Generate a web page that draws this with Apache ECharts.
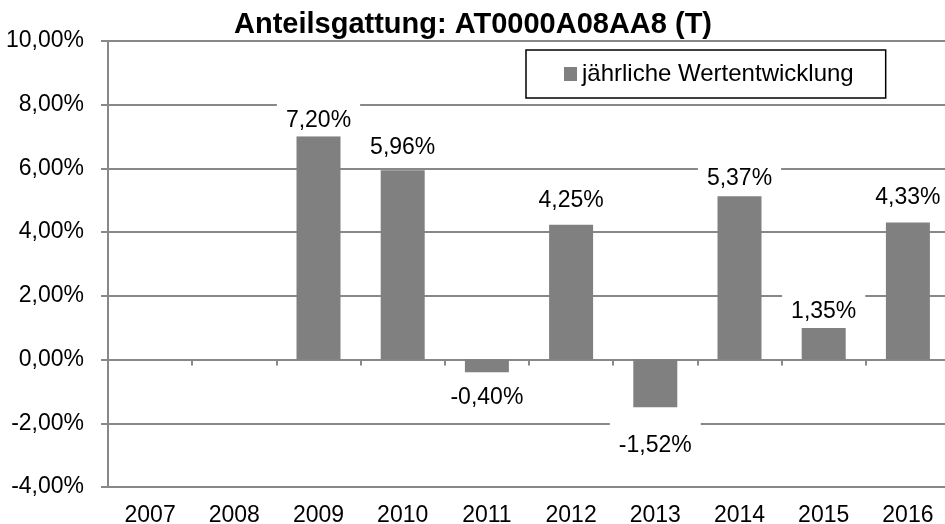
<!DOCTYPE html>
<html>
<head>
<meta charset="utf-8">
<script src="https://cdn.jsdelivr.net/npm/echarts@6/dist/echarts.min.js"></script>
<style>html,body{margin:0;padding:0;background:#fff;}#c{width:945px;height:524px;}</style>
</head>
<body>
<div id="c"></div>
<script>
// ---- data ----
const years = ['2007','2008','2009','2010','2011','2012','2013','2014','2015','2016'];
const barValues = [null, null, 7.01, 5.94, -0.40, 4.23, -1.50, 5.13, 0.99, 4.30];
const labelValues = [null, null, 7.20, 5.96, -0.40, 4.25, -1.52, 5.37, 1.35, 4.33];
const yTicks = [-4, -2, 0, 2, 4, 6, 8, 10];
const seriesName = 'jährliche Wertentwicklung';
const chartTitle = 'Anteilsgattung: AT0000A08AA8 (T)';

// ---- layout / style ----
const labelDistance = [0, 0, 0, 7, 1, 8, 14, 1, 0, 9];
const FONT = 'Liberation Sans, Arial, sans-serif';
const GRAY = '#888888';
const fmt = v => v.toFixed(2).replace('.', ',') + '%';

const seriesData = barValues.map((v, i) => {
  if (v === null) return { value: null, label: { show: false } };
  return {
    value: v,
    label: {
      show: true,
      position: v < 0 ? 'bottom' : 'top',
      distance: labelDistance[i],
      formatter: () => fmt(labelValues[i])
    }
  };
});

const chart = echarts.init(document.getElementById('c'), null, { renderer: 'canvas' });
chart.setOption({
  animation: false,
  backgroundColor: '#fff',
  textStyle: { fontFamily: FONT },
  title: {
    text: chartTitle,
    left: 468, top: 5, textAlign: 'center',
    textStyle: { fontFamily: FONT, fontWeight: 'bold', fontSize: 29, color: '#000' }
  },
  legend: {
    data: [seriesName],
    left: 526, top: 50,
    padding: [12, 32, 12, 38],
    borderColor: '#000', borderWidth: 1.5,
    backgroundColor: '#fff',
    itemWidth: 13, itemHeight: 14,
    icon: 'rect',
    textStyle: { fontFamily: FONT, fontSize: 24, color: '#000' }
  },
  grid: { left: 108, top: 41, width: 842, height: 446, containLabel: false, outerBoundsMode: 'none' },
  xAxis: [
    {
      type: 'category', data: years, position: 'bottom',
      axisLine: { show: true, onZero: true, lineStyle: { color: GRAY, width: 2 } },
      axisTick: { show: true, length: 6, lineStyle: { color: GRAY, width: 2 } },
      axisLabel: { show: false },
      splitLine: { show: false }
    },
    {
      type: 'category', data: years, position: 'bottom',
      axisLine: { show: false, onZero: false },
      axisTick: { show: false },
      axisLabel: { show: true, margin: 17, fontFamily: FONT, fontSize: 23, color: '#000' },
      splitLine: { show: false }
    }
  ],
  yAxis: {
    type: 'value', min: yTicks[0], max: yTicks[yTicks.length - 1], interval: 2,
    axisLine: { show: true, lineStyle: { color: GRAY, width: 2 } },
    axisTick: { show: true, length: 7, lineStyle: { color: GRAY, width: 2 } },
    axisLabel: { margin: 24, fontFamily: FONT, fontSize: 23, color: '#000', formatter: v => fmt(v) },
    splitLine: { show: true, lineStyle: { color: GRAY, width: 2 } }
  },
  series: [{
    name: seriesName,
    type: 'bar',
    xAxisIndex: 0,
    data: seriesData,
    barWidth: 44,
    itemStyle: { color: '#808080' },
    label: {
      show: true,
      fontFamily: FONT, fontSize: 23, color: '#000',
      lineHeight: 24,
      backgroundColor: '#fff',
      padding: [12, 9, 4, 9]
    }
  }]
});
</script>
</body>
</html>
